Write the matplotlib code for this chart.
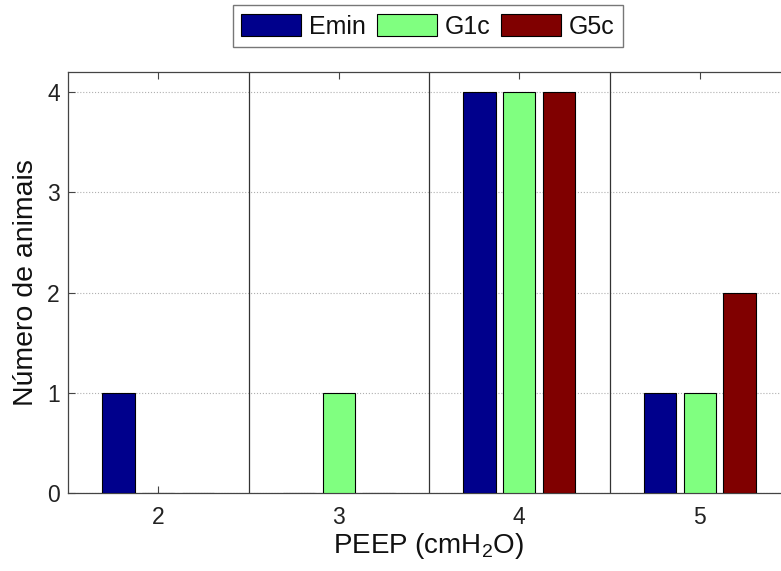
import matplotlib
matplotlib.use("Agg")
import matplotlib.pyplot as plt
import numpy as np

plt.rcParams['font.family'] = ['Liberation Sans', 'DejaVu Sans']
plt.rcParams['mathtext.fontset'] = 'custom'
plt.rcParams['mathtext.rm'] = 'Liberation Sans'

peep = [2, 3, 4, 5]
series = ["Emin", "G1c", "G5c"]
emin = [1, 0, 4, 1]
g1c = [0, 1, 4, 1]
g5c = [0, 0, 4, 2]
colors = ["#00008C", "#80FF80", "#800000"]

fig = plt.figure(figsize=(7.81, 5.71), dpi=100)
W, H = 781, 571
left, right, top, bottom = 68, 790, 72, 493
ax = fig.add_axes([left / W, 1 - bottom / H, (right - left) / W, (bottom - top) / H])

x = np.array(peep, dtype=float)
offsets = [-0.22, 0.0, 0.22]
width = 0.18
handles = []
for vals, off, c, name in zip([emin, g1c, g5c], offsets, colors, series):
    b = ax.bar(x + off, vals, width=width, color=c, edgecolor="black", linewidth=0.8, label=name, zorder=3)
    handles.append(b)

for xv in [2.5, 3.5, 4.5]:
    ax.axvline(xv, color="#333333", linewidth=0.9, zorder=2)

ax.set_xlim(1.5, 5.5)
ax.set_ylim(0, 4.2)
ax.set_xticks(peep)
ax.set_yticks([0, 1, 2, 3, 4])
ax.yaxis.grid(True, linestyle=":", color="#b0b0b0", linewidth=0.8, zorder=0)
ax.set_axisbelow(True)
ax.tick_params(direction="in", labelsize=16.5, top=True, right=False, length=5, color="#444444",
               labelcolor="#222222")
ax.tick_params(axis="x", pad=9)
ax.tick_params(axis="y", pad=6)
for s in ax.spines.values():
    s.set_color("#444444")
    s.set_linewidth(0.9)

ax.set_xlabel("PEEP (cmH$_\\mathregular{2}$O)", fontsize=20, labelpad=2, color="#111111")
ax.set_ylabel("Número de animais", fontsize=20.5, labelpad=6, color="#111111")

leg = fig.legend(handles=handles, labels=series, loc="upper center", bbox_to_anchor=(428 / W, 1 - 5 / H),
                 ncol=3, fontsize=18, frameon=True, fancybox=False, edgecolor="#555555",
                 handlelength=2.4, handleheight=1.0, columnspacing=0.45, handletextpad=0.3,
                 borderpad=0.35, borderaxespad=0.0)
leg.get_frame().set_linewidth(1.0)
for t in leg.get_texts():
    t.set_color("#111111")

fig.savefig("out.png", dpi=100)
